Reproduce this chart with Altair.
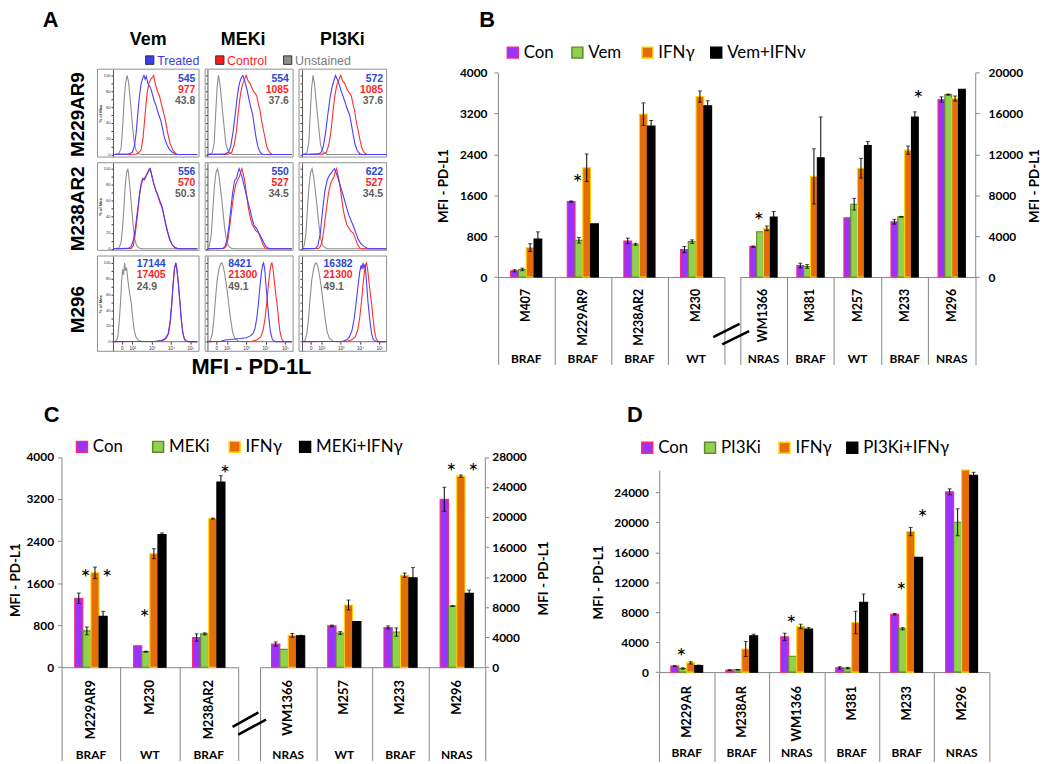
import altair as alt
import pandas as pd

# ======================= DATA =======================
# ---- Panel A: flow cytometry histograms (x = log10 fluorescence, y = % of max) ----
A_COLS = ["Vem", "MEKi", "PI3Ki"]
A_ROWS = ["M229AR9", "M238AR2", "M296"]
A_TREATED = [[545, 554, 572], [556, 550, 622], [17144, 8421, 16382]]
A_CONTROL = [[977, 1085, 1085], [570, 527, 527], [17405, 21300, 21300]]
A_UNSTAINED = [[43.8, 37.6, 37.6], [50.3, 34.5, 34.5], [24.9, 49.1, 49.1]]
A_XTICKS = [1.45, 2, 3, 4, 5]
A_XLABELS = ["0", "10²", "10³", "10⁴", "10⁵"]
A_YTICKS = [0, 10, 20, 30, 40, 50, 60, 70, 80, 90, 100]

H1_UNST_A = [(1.0,0),(1.3,1),(1.42,8),(1.5,35),(1.58,70),(1.65,90),(1.73,100),(1.8,92),(1.87,75),(1.94,56),(2.0,38),(2.08,18),(2.18,6),(2.32,1),(2.5,0),(5.36,0)]
H1_UNST_B = [(1.0,0),(1.25,2),(1.35,15),(1.42,50),(1.5,85),(1.57,100),(1.64,90),(1.72,70),(1.8,50),(1.88,30),(1.96,12),(2.1,3),(2.3,0),(5.36,0)]
H1_TREAT_VEM = [(1.0,0),(1.8,0.5),(2.0,3),(2.11,11),(2.2,28),(2.28,51),(2.36,72),(2.45,89),(2.53,96),(2.6,100),(2.66,95),(2.72,99),(2.8,90),(2.9,86),(2.96,83),(3.05,75),(3.13,68),(3.22,62),(3.3,55),(3.4,48),(3.47,43),(3.56,33),(3.65,22),(3.78,13),(3.9,7),(4.05,3),(4.16,1.5),(4.3,0),(5.36,0)]
H1_CTRL_VEM = [(1.0,0),(2.2,0.5),(2.32,2),(2.45,6),(2.55,20),(2.65,48),(2.75,75),(2.85,90),(2.95,95),(3.05,98),(3.1,100),(3.2,88),(3.3,80),(3.4,74),(3.5,64),(3.6,54),(3.7,44),(3.82,28),(3.95,14),(4.1,5),(4.25,1),(4.35,0),(5.36,0)]
H1_TREAT_MEK = [(1.0,0),(1.9,0.5),(2.09,3),(2.2,10),(2.32,28),(2.43,50),(2.55,75),(2.65,90),(2.75,97),(2.83,100),(2.9,95),(2.98,88),(3.06,80),(3.14,70),(3.24,60),(3.34,50),(3.42,36),(3.52,20),(3.62,9),(3.72,3),(3.81,0.5),(3.9,0),(5.36,0)]
H1_CTRL_SHARED = [(1.0,0),(2.1,0.5),(2.26,3),(2.38,12),(2.5,30),(2.6,55),(2.7,75),(2.8,88),(2.9,94),(3.0,100),(3.1,93),(3.2,90),(3.3,84),(3.38,80),(3.47,77),(3.55,74),(3.63,64),(3.72,55),(3.8,42),(3.9,30),(4.0,18),(4.07,10),(4.15,5),(4.24,2),(4.35,0),(5.36,0)]
H1_TREAT_PI3K = [(1.0,0),(1.85,0.5),(1.99,3),(2.1,10),(2.22,28),(2.33,50),(2.45,72),(2.55,85),(2.63,92),(2.73,100),(2.8,96),(2.9,90),(3.0,82),(3.1,75),(3.2,68),(3.3,60),(3.38,55),(3.46,50),(3.55,38),(3.65,24),(3.75,12),(3.85,5),(3.98,1),(4.1,0),(5.36,0)]

H2_UNST_A = [(1.0,0),(1.3,1),(1.42,8),(1.5,28),(1.56,50),(1.63,78),(1.7,95),(1.77,100),(1.83,88),(1.9,70),(1.97,50),(2.05,28),(2.12,12),(2.22,4),(2.35,1),(2.5,0),(5.36,0)]
H2_UNST_B = [(1.0,0),(1.1,3),(1.2,18),(1.28,50),(1.36,78),(1.44,95),(1.52,100),(1.6,90),(1.7,70),(1.79,50),(1.88,28),(1.97,12),(2.07,4),(2.2,1),(2.35,0),(5.36,0)]
H2_TREAT_VEM = [(1.0,0),(1.8,0.5),(1.94,3),(2.05,10),(2.15,25),(2.28,50),(2.38,70),(2.46,82),(2.54,88),(2.62,86),(2.7,90),(2.8,95),(2.88,98),(2.93,100),(3.0,92),(3.1,82),(3.2,74),(3.3,68),(3.42,60),(3.5,55),(3.56,50),(3.66,38),(3.78,24),(3.92,12),(4.05,5),(4.2,2),(4.33,0.5),(4.45,0),(5.36,0)]
H2_CTRL_VEM = [(1.0,0),(1.95,0.5),(2.05,4),(2.15,18),(2.28,45),(2.38,68),(2.46,80),(2.54,86),(2.62,88),(2.7,91),(2.8,96),(2.88,100),(2.95,97),(3.02,90),(3.12,80),(3.22,72),(3.32,66),(3.42,58),(3.52,52),(3.6,45),(3.7,34),(3.82,22),(3.95,11),(4.08,4),(4.2,1),(4.3,0),(5.36,0)]
H2_TREAT_MEK = [(1.0,0),(1.8,0.5),(1.91,3),(2.02,12),(2.12,30),(2.21,50),(2.3,70),(2.4,85),(2.5,88),(2.57,95),(2.64,100),(2.7,96),(2.78,90),(2.88,80),(2.98,70),(3.1,58),(3.21,48),(3.3,38),(3.4,30),(3.48,27),(3.55,25),(3.65,20),(3.78,14),(3.9,8),(4.02,3),(4.16,0.5),(4.3,0),(5.36,0)]
H2_CTRL_SHARED = [(1.0,0),(1.85,0.5),(1.96,3),(2.06,12),(2.16,30),(2.26,50),(2.36,68),(2.46,80),(2.56,86),(2.65,90),(2.72,96),(2.78,100),(2.84,94),(2.92,85),(3.02,68),(3.12,50),(3.22,38),(3.32,30),(3.42,26),(3.52,22),(3.64,20),(3.75,13),(3.86,6),(3.98,1),(4.1,0),(5.36,0)]
H2_TREAT_PI3K = [(1.0,0),(1.7,0.5),(1.82,4),(1.95,20),(2.07,50),(2.18,72),(2.3,86),(2.42,92),(2.52,95),(2.6,98),(2.68,100),(2.76,95),(2.86,88),(2.96,80),(3.06,72),(3.16,64),(3.24,57),(3.32,50),(3.42,42),(3.52,36),(3.63,30),(3.75,22),(3.9,12),(4.05,6),(4.2,3),(4.35,1),(4.49,0),(5.36,0)]

H3_UNST_A = [(1.0,0),(1.18,1),(1.26,8),(1.33,28),(1.39,50),(1.45,78),(1.5,92),(1.55,85),(1.6,100),(1.65,90),(1.7,94),(1.76,80),(1.84,65),(1.94,50),(2.02,30),(2.1,14),(2.2,5),(2.35,1),(2.5,0),(5.36,0)]
H3_UNST_B = [(1.0,0),(1.14,1),(1.25,10),(1.33,28),(1.4,50),(1.5,78),(1.6,93),(1.68,99),(1.74,100),(1.82,95),(1.9,85),(2.0,68),(2.09,50),(2.2,28),(2.3,12),(2.42,4),(2.6,0.5),(2.75,0),(5.36,0)]
H3_TREAT_VEM = [(1.0,0),(3.2,0.5),(3.5,1.5),(3.7,4),(3.85,10),(3.95,25),(4.04,50),(4.1,72),(4.17,92),(4.24,100),(4.3,92),(4.37,75),(4.46,50),(4.53,28),(4.6,12),(4.68,4),(4.75,1),(4.9,0),(5.36,0)]
H3_CTRL_VEM = [(1.0,0),(3.3,0.5),(3.6,1.5),(3.75,4),(3.88,11),(3.97,27),(4.05,52),(4.12,76),(4.19,94),(4.25,100),(4.31,92),(4.38,74),(4.46,50),(4.54,26),(4.62,10),(4.7,3),(4.8,0.5),(4.95,0),(5.36,0)]
H3_TREAT_MEK = [(1.0,0),(1.7,0.5),(1.9,2),(2.3,3),(2.7,4),(3.0,5),(3.2,7),(3.35,10),(3.45,16),(3.55,30),(3.64,50),(3.72,72),(3.8,90),(3.86,98),(3.9,100),(3.96,92),(4.03,70),(4.1,50),(4.18,28),(4.26,12),(4.34,4),(4.41,1),(4.55,0),(5.36,0)]
H3_CTRL_SHARED = [(1.0,0),(3.3,0.5),(3.55,2),(3.75,6),(3.88,15),(3.98,30),(4.07,50),(4.15,72),(4.23,90),(4.29,98),(4.33,100),(4.39,92),(4.47,74),(4.54,58),(4.59,50),(4.66,32),(4.74,14),(4.83,4),(4.93,0.5),(5.05,0),(5.36,0)]
H3_TREAT_PI3K = [(1.0,0),(3.1,0.5),(3.28,2),(3.45,6),(3.58,14),(3.7,30),(3.8,50),(3.9,72),(3.98,88),(4.05,97),(4.1,92),(4.15,100),(4.2,94),(4.26,98),(4.32,80),(4.41,50),(4.5,28),(4.6,10),(4.68,3),(4.75,1),(4.9,0),(5.36,0)]

A_CURVES = [
    [(H1_UNST_A, H1_CTRL_VEM, H1_TREAT_VEM), (H1_UNST_B, H1_CTRL_SHARED, H1_TREAT_MEK), (H1_UNST_B, H1_CTRL_SHARED, H1_TREAT_PI3K)],
    [(H2_UNST_A, H2_CTRL_VEM, H2_TREAT_VEM), (H2_UNST_B, H2_CTRL_SHARED, H2_TREAT_MEK), (H2_UNST_B, H2_CTRL_SHARED, H2_TREAT_PI3K)],
    [(H3_UNST_A, H3_CTRL_VEM, H3_TREAT_VEM), (H3_UNST_B, H3_CTRL_SHARED, H3_TREAT_MEK), (H3_UNST_B, H3_CTRL_SHARED, H3_TREAT_PI3K)],
]

# ---- Panel B ----
B_SERIES = ["Con", "Vem", "IFNγ", "Vem+IFNν"]
B_CATS_L = ["M407", "M229AR9", "M238AR2", "M230"]
B_MUT_L = ["BRAF", "BRAF", "BRAF", "WT"]
B_CON_L = [123, 1478, 707, 538]
B_VEM_L = [149, 720, 642, 693]
B_IFN_L = [577, 2139, 3190, 3533]
B_COMBO_L = [745, 1040, 2955, 3352]
B_CON_L_ERR = [20, 12, 55, 60]
B_VEM_L_ERR = [25, 55, 20, 35]
B_IFN_L_ERR = [75, 270, 220, 110]
B_COMBO_L_ERR = [140, 0, 110, 100]
B_CATS_R = ["WM1366", "M381", "M257", "M233", "M296"]
B_MUT_R = ["NRAS", "BRAF", "WT", "BRAF", "NRAS"]
B_CON_R = [2982, 1135, 5802, 5413, 17380]
B_VEM_R = [4441, 1037, 7131, 5900, 17860]
B_IFN_R = [4765, 9854, 10650, 12420, 17471]
B_COMBO_R = [5867, 11670, 12870, 15650, 18390]
B_CON_R_ERR = [60, 220, 0, 230, 260]
B_VEM_R_ERR = [0, 180, 570, 40, 60]
B_IFN_R_ERR = [230, 2700, 970, 400, 250]
B_COMBO_R_ERR = [550, 4000, 400, 520, 0]
B_STARS_L = [("M229AR9", "Vem", 1958)]
B_STARS_R = [("WM1366", "Vem", 6060), ("M233", "Vem+IFNν", 17960)]
B_TICKS_L = [0, 800, 1600, 2400, 3200, 4000]
B_TICKS_R = [0, 4000, 8000, 12000, 16000, 20000]

# ---- Panel C ----
C_SERIES = ["Con", "MEKi", "IFNγ", "MEKi+IFNγ"]
C_CATS_L = ["M229AR9", "M230", "M238AR2"]
C_MUT_L = ["BRAF", "WT", "BRAF"]
C_CON_L = [1312, 409, 565]
C_MEK_L = [691, 296, 634]
C_IFN_L = [1796, 2160, 2826]
C_COMBO_L = [967, 2524, 3523]
C_CON_L_ERR = [100, 0, 70]
C_MEK_L_ERR = [75, 10, 20]
C_IFN_L_ERR = [110, 95, 10]
C_COMBO_L_ERR = [95, 30, 120]
C_CATS_R = ["WM1366", "M257", "M233", "M296"]
C_MUT_R = ["NRAS", "WT", "BRAF", "NRAS"]
C_CON_R = [3090, 5510, 5300, 22373]
C_MEK_R = [2374, 4545, 4680, 8150]
C_IFN_R = [4240, 8285, 12250, 25450]
C_COMBO_R = [4190, 6090, 11900, 9830]
C_CON_R_ERR = [280, 100, 200, 1600]
C_MEK_R_ERR = [0, 200, 550, 60]
C_IFN_R_ERR = [250, 660, 290, 150]
C_COMBO_R_ERR = [60, 0, 1370, 440]
C_STARS_L = [("M229AR9", "MEKi", 1802), ("M229AR9", "MEKi+IFNγ", 1802), ("M230", "MEKi", 1049), ("M238AR2", "MEKi+IFNγ", 3780)]
C_STARS_R = [("M296", "MEKi", 26770), ("M296", "MEKi+IFNγ", 26770)]
C_TICKS_L = [0, 800, 1600, 2400, 3200, 4000]
C_TICKS_R = [0, 4000, 8000, 12000, 16000, 20000, 24000, 28000]

# ---- Panel D ----
D_SERIES = ["Con", "PI3Ki", "IFNγ", "PI3Ki+IFNγ"]
D_CATS = ["M229AR", "M238AR", "WM1366", "M381", "M233", "M296"]
D_MUT = ["BRAF", "BRAF", "NRAS", "BRAF", "BRAF", "NRAS"]
D_CON = [796, 265, 4700, 570, 7735, 24088]
D_PI3K = [480, 310, 2120, 530, 5790, 20022]
D_IFN = [1233, 3090, 6100, 6630, 18785, 27000]
D_COMBO = [875, 4862, 5745, 9326, 15337, 26298]
D_CON_ERR = [60, 40, 500, 150, 100, 400]
D_PI3K_ERR = [100, 40, 0, 100, 150, 1800]
D_IFN_ERR = [150, 1000, 300, 1500, 550, 0]
D_COMBO_ERR = [60, 200, 200, 1100, 0, 400]
D_STARS = [("M229AR", "PI3Ki", 2785), ("WM1366", "PI3Ki", 7204), ("M233", "PI3Ki", 11624), ("M233", "PI3Ki+IFNγ", 21436)]
D_TICKS = [0, 4000, 8000, 12000, 16000, 20000, 24000]

# ======================= LAYOUT / STYLE =======================
W, H = 1042, 756
M = 8


def px(v):
    return v - M


def py(v):
    return v - M


GRID = "#858585"
BAR_FILL = ["#9933ff", "#92d050", "#e46c0a", "#000000"]
BAR_STROKE = ["#ff2a6d", "#5e8a2e", "#ffd500", "#000000"]
CURVE_NAMES = ["Unstained", "Control", "Treated"]
CURVE_COLORS = ["#8e8e8e", "#ff2b2b", "#4a3cff"]
NUM_NAMES = ["Treated", "Control", "Unstained"]
NUM_COLORS = ["#2c47d0", "#ff1f1f", "#5f5f5f"]

ONE = pd.DataFrame({"k": [0]})
layers = []


def text(s, x, y, size, color="#000000", font="Liberation Sans", weight="bold",
         align="left", baseline="alphabetic", angle=0):
    mk = dict(text=s, font=font, fontSize=size, fontWeight=weight, color=color,
              align=align, baseline=baseline)
    if angle:
        mk["angle"] = angle
    layers.append(alt.Chart(ONE).mark_text(**mk).encode(x=alt.value(px(x)), y=alt.value(py(y))))


def square(x, y, w, h, fill, stroke, sw=1.0):
    layers.append(alt.Chart(ONE).mark_rect(fill=fill, stroke=stroke, strokeWidth=sw).encode(
        x=alt.value(px(x)), x2=alt.value(px(x + w)), y=alt.value(py(y)), y2=alt.value(py(y + h))))


def slash(x1, y1, x2, y2):
    layers.append(alt.Chart(ONE).mark_rule(color="black", strokeWidth=2.6).encode(
        x=alt.value(px(x1)), y=alt.value(py(y1)), x2=alt.value(px(x2)), y2=alt.value(py(y2))))


# ======================= PANEL A =======================
A_BOX_X = [(98.2, 200.5), (206.7, 295.3), (301.3, 389.5)]
A_AXIS_X = [113.8, 209.0, 304.3]
A_BOX_Y = [(66.7, 155.3), (161.0, 249.3), (255.0, 351.0)]
A_BASE_Y = [152.7, 247.7, 341.3]
A_TOP_Y = [73.0, 167.0, 262.0]
DEC = 19.5
A_NUM_X = [196.7, 291.0, 386.0]
A_NUM_X3 = [137.7, 230.0, 326.0]
A_NUM_Y = [(76.7, 99.3), (170.0, 192.7), (263.3, 286.0)]

xlab_expr = "''"
for v, l in reversed(list(zip(A_XTICKS, A_XLABELS))):
    xlab_expr = "abs(datum.value - %s) < 0.01 ? '%s' : (%s)" % (v, l, xlab_expr)

for r in range(3):
    for c in range(3):
        bx0, bx1 = A_BOX_X[c]
        ax = A_AXIS_X[c]
        by0, by1 = A_BOX_Y[r]
        base, top = A_BASE_Y[r], A_TOP_Y[r]
        xlo = 1 + (bx0 - ax) / DEC
        xhi = 1 + (bx1 - ax) / DEC
        ppp = (base - top) / 100.0
        ylo = -(by1 - base) / ppp
        yhi = 100 + (top - by0) / ppp
        xs = alt.Scale(domain=[xlo, xhi], range=[px(bx0), px(bx1)], nice=False, zero=False)
        ys = alt.Scale(domain=[ylo, yhi], range=[py(by1), py(by0)], nice=False, zero=False)

        # panel frame = scale extent
        layers.append(alt.Chart(ONE).mark_rect(filled=False, color="#8f8f8f", strokeWidth=1).encode(
            x=alt.XDatum(xlo, type="quantitative", scale=xs, axis=None),
            x2=alt.X2Datum(xhi),
            y=alt.YDatum(ylo, type="quantitative", scale=ys, axis=None),
            y2=alt.Y2Datum(yhi),
        ))

        rows = []
        for name, pts in zip(CURVE_NAMES, A_CURVES[r][c]):
            for i, (xv, yv) in enumerate(pts):
                rows.append({"x": xv, "y": yv, "curve": name, "i": i})
        df = pd.DataFrame(rows)

        yax = dict(orient="left", offset=-px(ax), values=A_YTICKS, tickSize=2, tickColor="#444444",
                   domainColor="#555555", domainWidth=1, grid=False, labelOverlap=False)
        if c == 0:
            yax.update(labels=True, labelExpr="datum.value % 20 == 0 ? datum.label : ''",
                       labelFontSize=4.2, labelFont="Liberation Sans", labelPadding=1,
                       labelColor="#333333", title="% of Max", titleFontSize=4.2,
                       titleFont="Liberation Sans", titlePadding=1, titleColor="#333333")
        else:
            yax.update(labels=False, title=None)
        if r == 2:
            xaxis = alt.Axis(orient="bottom", offset=py(base) - H, values=A_XTICKS, labelExpr=xlab_expr,
                             tickSize=2.5, tickColor="#333333", domain=False, labelFontSize=4.6,
                             labelFont="Liberation Sans", labelPadding=1, labelColor="#333333",
                             grid=False, title=None, labelFlush=False, labelOverlap=False)
        else:
            xaxis = None
        layers.append(alt.Chart(df).mark_line(strokeWidth=1.1).encode(
            x=alt.X("x:Q", scale=xs, axis=xaxis),
            y=alt.Y("y:Q", scale=ys, axis=alt.Axis(**yax)),
            color=alt.Color("curve:N", scale=alt.Scale(domain=CURVE_NAMES, range=CURVE_COLORS), legend=None),
            order="i:Q",
        ))

        ndf = pd.DataFrame({"k": NUM_NAMES,
                            "v": ["%g" % A_TREATED[r][c], "%g" % A_CONTROL[r][c], "%g" % A_UNSTAINED[r][c]]})
        nx = A_NUM_X3[c] if r == 2 else A_NUM_X[c]
        al = "left" if r == 2 else "right"
        n0, n1 = A_NUM_Y[r]
        layers.append(alt.Chart(ndf).mark_text(align=al, baseline="middle", font="Liberation Sans",
                                               fontWeight="bold", fontSize=10.5).encode(
            x=alt.value(px(nx)),
            y=alt.Y("k:N", scale=alt.Scale(type="point", domain=NUM_NAMES, range=[py(n0), py(n1)], padding=0), axis=None),
            text="v:N",
            color=alt.Color("k:N", scale=alt.Scale(domain=NUM_NAMES, range=NUM_COLORS), legend=None),
        ))

text("A", 43, 24.5, 22)
for name, xc in zip(A_COLS, [149.3, 245.0, 345.0]):
    text(name, xc, 42.5, 18, align="center")
for name, yc in zip(A_ROWS, [112.5, 207.5, 309.0]):
    text(name, 78.3, yc, 19, align="center", baseline="middle", angle=270)
for name, sx, tx, fc, tc in zip(["Treated", "Control", "Unstained"], [146.7, 217.3, 285.7], [158.3, 228.7, 297.3],
                                ["#3b3bf5", "#ff1a1a", "#8c8c8c"], ["#3a3ae8", "#ff2020", "#7c7c7c"]):
    square(sx, 53.3, 8.3, 8.6, fc, "#333333", 1)
    text(name, tx, 62.3, 12.5, color=tc, weight="normal")
text("MFI - PD-1L", 253.3, 366.7, 22, align="center", baseline="middle")


# ======================= BAR PANELS =======================
def bar_group(cats, muts, series, columns, errors, stars, x0, x1, y0, ytop, vmax, ticks, frac,
              side, tick_len, lab_top, mut_y, lab_size, tick_pad):
    rows = []
    for s, vals, errs in zip(series, columns, errors):
        for cat, v, e in zip(cats, vals, errs):
            rows.append({"cat": cat, "series": s, "val": v, "lo": v - e, "hi": v + e, "err": e})
    df = pd.DataFrame(rows)
    cell = (x1 - x0) / len(cats)
    xs = alt.Scale(domain=cats, range=[px(x0), px(x1)], paddingInner=0, paddingOuter=0)
    xos = alt.Scale(domain=series, range=[(1 - frac) / 2 * cell, (1 + frac) / 2 * cell],
                    paddingInner=0, paddingOuter=0)
    ys = alt.Scale(domain=[0, vmax], range=[py(y0), py(ytop)], nice=False, zero=False)
    yk = dict(values=ticks, tickSize=4, tickColor=GRID, domainColor=GRID, domainWidth=1,
              labelFont="Lato", labelFontWeight="bold", labelFontSize=12, labelColor="black",
              labelPadding=tick_pad, grid=False, title=None, labelOverlap=False, labelFlush=False, format="d")
    if side == "left":
        yaxis = alt.Axis(orient="left", offset=-px(x0), **yk)
    elif side == "right":
        yaxis = alt.Axis(orient="right", offset=px(x1) - W, **yk)
    else:
        yaxis = None
    base_axis = alt.Axis(orient="bottom", offset=py(y0) - H, domain=True, domainColor=GRID, domainWidth=1,
                         ticks=False, labels=False, title=None, grid=False)
    tick_axis = alt.Axis(orient="bottom", offset=py(y0) - H, domain=False, ticks=True, tickBand="extent",
                         tickSize=tick_len, tickColor=GRID, tickWidth=1, labels=False, title=None, grid=False)

    layers.append(alt.Chart(df).mark_bar(strokeWidth=1.1).encode(
        x=alt.X("cat:N", scale=xs, axis=base_axis),
        xOffset=alt.XOffset("series:N", scale=xos),
        y=alt.Y("val:Q", scale=ys, axis=yaxis),
        fill=alt.Fill("series:N", scale=alt.Scale(domain=series, range=BAR_FILL), legend=None),
        stroke=alt.Stroke("series:N", scale=alt.Scale(domain=series, range=BAR_STROKE), legend=None),
    ))
    edf = df[df["err"] > 0]
    layers.append(alt.Chart(edf).mark_rule(color="black", strokeWidth=1).encode(
        x=alt.X("cat:N", scale=xs, axis=tick_axis),
        xOffset=alt.XOffset("series:N", scale=xos),
        y=alt.Y("lo:Q", scale=ys, axis=None),
        y2="hi:Q",
    ))
    cdf = pd.concat([edf.assign(v=edf["lo"]), edf.assign(v=edf["hi"])], ignore_index=True)
    layers.append(alt.Chart(cdf).mark_tick(color="black", thickness=1, size=4, orient="horizontal").encode(
        x=alt.X("cat:N", scale=xs, axis=None),
        xOffset=alt.XOffset("series:N", scale=xos),
        y=alt.Y("v:Q", scale=ys, axis=None),
    ))
    if stars:
        sdf = pd.DataFrame(stars, columns=["cat", "series", "val"])
        layers.append(alt.Chart(sdf).mark_text(text="*", font="Lato", fontSize=24, baseline="alphabetic",
                                               dy=14, color="black").encode(
            x=alt.X("cat:N", scale=xs, axis=None),
            xOffset=alt.XOffset("series:N", scale=xos),
            y=alt.Y("val:Q", scale=ys, axis=None),
        ))
    ldf = pd.DataFrame({"cat": cats, "mut": muts})
    layers.append(alt.Chart(ldf).mark_text(angle=270, align="right", baseline="middle", font="Lato",
                                           fontWeight="bold", fontSize=lab_size, color="black").encode(
        x=alt.X("cat:N", scale=xs, axis=None), y=alt.value(py(lab_top)), text="cat:N"))
    layers.append(alt.Chart(ldf).mark_text(align="center", baseline="middle", font="Lato",
                                           fontWeight="bold", fontSize=12, color="black").encode(
        x=alt.X("cat:N", scale=xs, axis=None), y=alt.value(py(mut_y)), text="mut:N"))


def bar_legend(series, sq_x, yc, size=17):
    for s, sx, f, st in zip(series, sq_x, BAR_FILL, BAR_STROKE):
        square(sx, yc - 5.5, 11, 11, f, st, 1.5)
        text(s, sx + 16.5, yc, size, font="Lato", weight="normal", baseline="middle")


def ytitle(x, y):
    text("MFI - PD-L1", x, y, 13.5, font="Lato", align="center", baseline="middle", angle=270)


# ---- B ----
bar_group(B_CATS_L, B_MUT_L, B_SERIES, [B_CON_L, B_VEM_L, B_IFN_L, B_COMBO_L],
          [B_CON_L_ERR, B_VEM_L_ERR, B_IFN_L_ERR, B_COMBO_L_ERR], B_STARS_L,
          501.7, 729.9, 276.2, 70.3, 4000, B_TICKS_L, 0.55, "left", 88, 288, 359, 12.5, 7)
bar_group(B_CATS_R, B_MUT_R, B_SERIES, [B_CON_R, B_VEM_R, B_IFN_R, B_COMBO_R],
          [B_CON_R_ERR, B_VEM_R_ERR, B_IFN_R_ERR, B_COMBO_R_ERR], B_STARS_R,
          745.6, 982.7, 276.2, 70.3, 20000, B_TICKS_R, 0.58, "right", 88, 288, 359, 12.5, 9)
text("B", 483, 24.5, 22)
bar_legend(B_SERIES, [511.2, 576.3, 646.9, 716.2], 50)
ytitle(447.7, 184.5)
ytitle(1043, 184.5)
slash(718.7, 336.7, 745.2, 323.3)
slash(727.8, 344.0, 754.8, 330.7)

# ---- C ----
bar_group(C_CATS_L, C_MUT_L, C_SERIES, [C_CON_L, C_MEK_L, C_IFN_L, C_COMBO_L],
          [C_CON_L_ERR, C_MEK_L_ERR, C_IFN_L_ERR, C_COMBO_L_ERR], C_STARS_L,
          61.9, 240.0, 669.4, 457.5, 4000, C_TICKS_L, 0.55, "left", 94, 682.3, 757.5, 13, 4)
bar_group(C_CATS_R, C_MUT_R, C_SERIES, [C_CON_R, C_MEK_R, C_IFN_R, C_COMBO_R],
          [C_CON_R_ERR, C_MEK_R_ERR, C_IFN_R_ERR, C_COMBO_R_ERR], C_STARS_R,
          262.0, 488.5, 669.4, 457.5, 28000, C_TICKS_R, 0.59, "right", 94, 682.3, 757.5, 13, 3)
text("C", 44, 422, 22)
bar_legend(C_SERIES, [77.0, 153.8, 230.9, 301.9], 447.3)
ytitle(16.5, 581.7)
ytitle(548, 580)
slash(234.3, 729.6, 260.3, 715.0)
slash(240.0, 737.4, 268.0, 722.2)

# ---- D ----
bar_group(D_CATS, D_MUT, D_SERIES, [D_CON, D_PI3K, D_IFN, D_COMBO],
          [D_CON_ERR, D_PI3K_ERR, D_IFN_ERR, D_COMBO_ERR], D_STARS,
          664.3, 996.7, 674.3, 470.7, 27000, D_TICKS, 0.58, "left", 90, 688.3, 756, 13, 7)
text("D", 631.7, 422.5, 22)
bar_legend(D_SERIES, [646.7, 710.0, 785.0, 853.3], 448.3)
ytitle(603.3, 584)

chart = alt.layer(*layers).resolve_scale(
    x="independent", y="independent", xOffset="independent",
    color="independent", fill="independent", stroke="independent",
).resolve_axis(x="independent", y="independent").properties(
    width=W, height=H, padding=0, autosize=alt.AutoSizeParams(type="none"),
).configure_view(stroke=None)

chart.save("out.html", embed_options={"renderer": "svg", "actions": False})
